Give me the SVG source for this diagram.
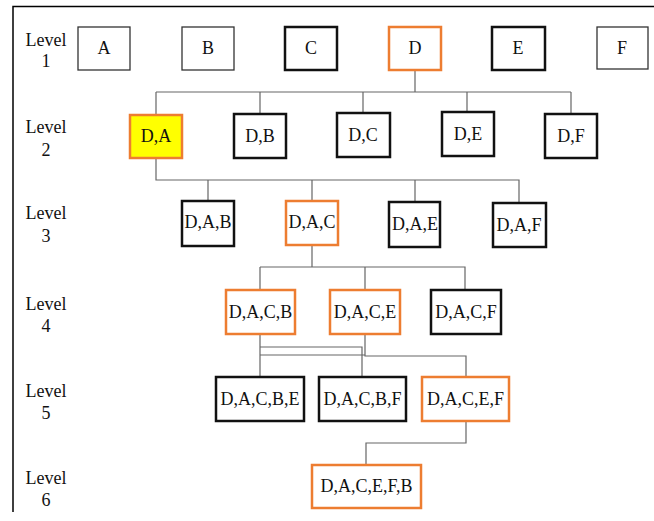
<svg xmlns="http://www.w3.org/2000/svg" width="654" height="521" viewBox="0 0 654 521">
<style>
text{font-family:"Liberation Serif","Times New Roman",serif;font-size:18px;fill:#111;text-anchor:middle}
.thin{fill:#fff;stroke:#333;stroke-width:1.3}
.bold{fill:#fff;stroke:#111;stroke-width:2.5}
.org{fill:#fff;stroke:#ED7D31;stroke-width:2.5}
.hl{fill:#FFFF00;stroke:#ED7D31;stroke-width:2.5}
.conn{fill:none;stroke:#666;stroke-width:1.2}
.frame{fill:none;stroke:#000;stroke-width:1.5}
</style>
<rect width="654" height="521" fill="#fff"/>
<path class="frame" d="M13,512 V6.5 H654"/>
<g id="levels">
<text x="46" y="46">Level</text><text x="46" y="67">1</text>
<text x="46" y="133">Level</text><text x="46" y="156">2</text>
<text x="46" y="219">Level</text><text x="46" y="242">3</text>
<text x="46" y="310">Level</text><text x="46" y="332">4</text>
<text x="46" y="397">Level</text><text x="46" y="419">5</text>
<text x="46" y="484">Level</text><text x="46" y="506">6</text>
</g>
<g id="connectors">
<path class="conn" d="M415,70 V92 M156,92 H571 M156,92 V115 M260,92 V114 M363,92 V113 M467,92 V112 M571,92 V114"/>
<path class="conn" d="M156,158 V180 H519 V203 M208,180 V201 M312,180 V201 M415,180 V202"/>
<path class="conn" d="M312,245 V267 M260,267 H465 V290 M260,267 V290 M365,267 V290"/>
<path class="conn" d="M260,334 V377 M260,347 H362 V377 M260,355 H365 M365,334 V356 H466 V377"/>
<path class="conn" d="M466,421 V443 H366 V465"/>
</g>
<g id="n-A"><rect class="thin" x="78" y="27" width="52" height="43"/><text x="104" y="54">A</text></g>
<g id="n-B"><rect class="thin" x="182" y="27" width="52" height="43"/><text x="208" y="54">B</text></g>
<g id="n-C"><rect class="bold" x="285" y="27" width="52" height="43"/><text x="311" y="54">C</text></g>
<g id="n-D"><rect class="org" x="389" y="27" width="52" height="43"/><text x="415" y="54">D</text></g>
<g id="n-E"><rect class="bold" x="492" y="27" width="53" height="43"/><text x="518" y="54">E</text></g>
<g id="n-F"><rect class="thin" x="597" y="27" width="51" height="42"/><text x="622" y="54">F</text></g>
<g id="n-DA"><rect class="hl" x="130" y="115" width="52" height="43"/><text x="156" y="142">D,A</text></g>
<g id="n-DB"><rect class="bold" x="234" y="114" width="52" height="44"/><text x="260" y="142">D,B</text></g>
<g id="n-DC"><rect class="bold" x="337" y="113" width="53" height="44"/><text x="363" y="141">D,C</text></g>
<g id="n-DE"><rect class="bold" x="442" y="112" width="52" height="44"/><text x="468" y="140">D,E</text></g>
<g id="n-DF"><rect class="bold" x="545" y="114" width="52" height="44"/><text x="571" y="142">D,F</text></g>
<g id="n-DAB"><rect class="bold" x="182" y="201" width="52" height="45"/><text x="208" y="228">D,A,B</text></g>
<g id="n-DAC"><rect class="org" x="286" y="201" width="52" height="44"/><text x="312" y="228">D,A,C</text></g>
<g id="n-DAE"><rect class="bold" x="389" y="202" width="51" height="45"/><text x="415" y="230">D,A,E</text></g>
<g id="n-DAF"><rect class="bold" x="493" y="203" width="53" height="44"/><text x="519" y="231">D,A,F</text></g>
<g id="n-DACB"><rect class="org" x="226" y="290" width="69" height="44"/><text x="260.5" y="318">D,A,C,B</text></g>
<g id="n-DACE"><rect class="org" x="330" y="290" width="70" height="44"/><text x="365" y="318">D,A,C,E</text></g>
<g id="n-DACF"><rect class="bold" x="431" y="290" width="70" height="44"/><text x="466" y="318">D,A,C,F</text></g>
<g id="n-DACBE"><rect class="bold" x="216" y="377" width="88" height="44"/><text x="260" y="405">D,A,C,B,E</text></g>
<g id="n-DACBF"><rect class="bold" x="319" y="377" width="87" height="44"/><text x="362.5" y="405">D,A,C,B,F</text></g>
<g id="n-DACEF"><rect class="org" x="422" y="377" width="87" height="44"/><text x="465.5" y="405">D,A,C,E,F</text></g>
<g id="n-DACEFB"><rect class="org" x="312" y="465" width="109" height="43"/><text x="366.5" y="492">D,A,C,E,F,B</text></g>
</svg>
